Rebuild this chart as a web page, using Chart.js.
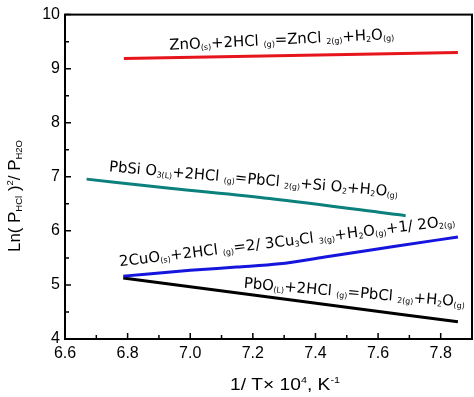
<!DOCTYPE html>
<html>
<head>
<meta charset="utf-8">
<script src="https://cdn.jsdelivr.net/npm/chart.js@4.4.1/dist/chart.umd.min.js"></script>
<style>
  html, body { margin: 0; padding: 0; background: #fff; }
  #wrap { width: 474px; height: 397px; }
</style>
</head>
<body>
<div id="wrap"><canvas id="chart1"></canvas></div>
<script>
// axis ticks
const xTicks = [6.6, 6.8, 7.0, 7.2, 7.4, 7.6, 7.8];
const xMinor = [6.7, 6.9, 7.1, 7.3, 7.5, 7.7];
const yTicks = [4, 5, 6, 7, 8, 9, 10];
const yMinor = [4.5, 5.5, 6.5, 7.5, 8.5, 9.5];

// ZnO reaction (red)
const znoX = [6.788, 7.855];
const znoY = [9.19, 9.30];
// PbSiO3 reaction (teal)
const pbsiX = [6.669, 6.934, 7.253, 7.688];
const pbsiY = [6.957, 6.79, 6.60, 6.281];
// CuO reaction (blue)
const cuoX = [6.786, 7.0, 7.148, 7.285, 7.43, 7.65, 7.855];
const cuoY = [5.163, 5.27, 5.33, 5.39, 5.517, 5.709, 5.888];
// PbO reaction (black)
const pboX = [6.786, 7.317, 7.855];
const pboY = [5.13, 4.728, 4.317];

function pts(xs, ys) {
  return xs.map((x, i) => ({ x: x, y: ys[i] }));
}

// reaction labels: [text, kind] pieces, kind n = normal, sub, sup
const labels = [
  { x: 6.934, y: 9.348, angle: -2.8, width: 225, parts: [
    ['ZnO', 'n'], ['(s)', 'sub'], ['+2HCl ', 'n'], ['(g)', 'sub'], ['=ZnCl ', 'n'], ['2(g)', 'sub'],
    ['+H', 'n'], ['2', 'sub'], ['O', 'n'], ['(g)', 'sub']] },
  { x: 6.740, y: 7.101, angle: 5, width: 290, parts: [
    ['PbSi O', 'n'], ['3(L)', 'sub'], ['+2HCl ', 'n'], ['(g)', 'sub'], ['=PbCl ', 'n'], ['2(g)', 'sub'],
    ['+Si O', 'n'], ['2', 'sub'], ['+H', 'n'], ['2', 'sub'], ['O', 'n'], ['(g)', 'sub']] },
  { x: 6.775, y: 5.344, angle: -7, width: 338, parts: [
    ['2CuO', 'n'], ['(s)', 'sub'], ['+2HCl ', 'n'], ['(g)', 'sub'], ['=2/ 3Cu', 'n'], ['3', 'sub'],
    ['Cl ', 'n'], ['3(g)', 'sub'], ['+H', 'n'], ['2', 'sub'], ['O', 'n'], ['(g)', 'sub'],
    ['+1/ 2O', 'n'], ['2(g)', 'sub']] },
  { x: 7.170, y: 4.946, angle: 4.9, width: 222, parts: [
    ['PbO', 'n'], ['(L)', 'sub'], ['+2HCl ', 'n'], ['(g)', 'sub'], ['=PbCl ', 'n'], ['2(g)', 'sub'],
    ['+H', 'n'], ['2', 'sub'], ['O', 'n'], ['(g)', 'sub']] }
];

const yTitle = [['Ln( P', 'n'], ['HCl', 'sub'], [' )', 'n'], ['2', 'sup'], ['/ P', 'n'], ['H2O', 'sub']];
const xTitle = [['1/ T\u00d7 10', 'n'], ['4', 'sup'], [', K', 'n'], ['-1', 'sup']];

function drawRich(ctx, parts, x, y, angle, width, family, size, align) {
  const fontOf = k => (k === 'n' ? size : Math.round(size * 0.55)) + 'px ' + family;
  let total = 0;
  parts.forEach(p => { ctx.font = fontOf(p[1]); total += ctx.measureText(p[0]).width; });
  const sx = width ? width / total : 1;
  ctx.save();
  ctx.translate(x, y);
  ctx.rotate(angle * Math.PI / 180);
  ctx.scale(sx, 1);
  let cx = align === 'center' ? -total / 2 : 0;
  ctx.fillStyle = '#000';
  ctx.textBaseline = 'alphabetic';
  ctx.textAlign = 'left';
  parts.forEach(p => {
    ctx.font = fontOf(p[1]);
    let dy = 0;
    if (p[1] === 'sub') dy = size * 0.12;
    if (p[1] === 'sup') dy = -size * 0.45;
    ctx.fillText(p[0], cx, dy);
    cx += ctx.measureText(p[0]).width;
  });
  ctx.restore();
}

const decor = {
  id: 'decor',
  afterDraw(chart) {
    const ctx = chart.ctx;
    const a = chart.chartArea;
    const xs = chart.scales.x, ys = chart.scales.y;
    ctx.save();
    ctx.strokeStyle = '#000';
    ctx.lineWidth = 2;
    ctx.strokeRect(a.left, a.top, a.right - a.left, a.bottom - a.top);
    ctx.lineWidth = 1.5;
    ctx.beginPath();
    xTicks.forEach(v => { const p = xs.getPixelForValue(v); ctx.moveTo(p, a.bottom); ctx.lineTo(p, a.bottom - 6); });
    xMinor.forEach(v => { const p = xs.getPixelForValue(v); ctx.moveTo(p, a.bottom); ctx.lineTo(p, a.bottom - 4); });
    yTicks.forEach(v => { const p = ys.getPixelForValue(v); ctx.moveTo(a.left, p); ctx.lineTo(a.left + 6, p); });
    yMinor.forEach(v => { const p = ys.getPixelForValue(v); ctx.moveTo(a.left, p); ctx.lineTo(a.left + 4, p); });
    ctx.stroke();
    ctx.restore();

    labels.forEach(l => {
      drawRich(ctx, l.parts, xs.getPixelForValue(l.x), ys.getPixelForValue(l.y), l.angle, l.width, '"DejaVu Sans"', 15);
    });
    drawRich(ctx, yTitle, 20, 196, -90, 112, '"Liberation Sans"', 16, 'center');
    drawRich(ctx, xTitle, 285, 390, 0, 110, '"Liberation Sans"', 16, 'center');
  }
};

const lineSet = (data, color) => ({
  data: data, showLine: true, borderColor: color, backgroundColor: color,
  borderWidth: 3, pointRadius: 0, fill: false, cubicInterpolationMode: 'monotone'
});

new Chart(document.getElementById('chart1'), {
  type: 'scatter',
  data: {
    datasets: [
      lineSet(pts(znoX, znoY), '#e6151b'),
      lineSet(pts(pbsiX, pbsiY), '#0c807c'),
      lineSet(pts(cuoX, cuoY), '#1515dd'),
      lineSet(pts(pboX, pboY), '#000000')
    ]
  },
  options: {
    responsive: true,
    maintainAspectRatio: false,
    animation: false,
    layout: { padding: { top: 8, right: 2, left: 0, bottom: 0 } },
    plugins: { legend: { display: false }, tooltip: { enabled: false } },
    scales: {
      x: {
        type: 'linear', min: 6.6, max: 7.9,
        afterBuildTicks: s => { s.ticks = xTicks.map(v => ({ value: v })); },
        afterFit: s => { s.height = 58; },
        grid: { display: false, drawTicks: false },
        border: { display: false },
        ticks: { color: '#000', padding: 5, maxRotation: 0, autoSkip: false,
          font: { family: 'Liberation Sans', size: 16 },
          callback: v => Number(v).toFixed(1) }
      },
      y: {
        type: 'linear', min: 4, max: 10,
        afterBuildTicks: s => { s.ticks = yTicks.map(v => ({ value: v })); },
        afterFit: s => { s.width = 65; },
        grid: { display: false, drawTicks: false },
        border: { display: false },
        ticks: { color: '#000', padding: 5, autoSkip: false,
          font: { family: 'Liberation Sans', size: 16 },
          callback: v => String(v) }
      }
    }
  },
  plugins: [decor]
});
</script>
</body>
</html>
